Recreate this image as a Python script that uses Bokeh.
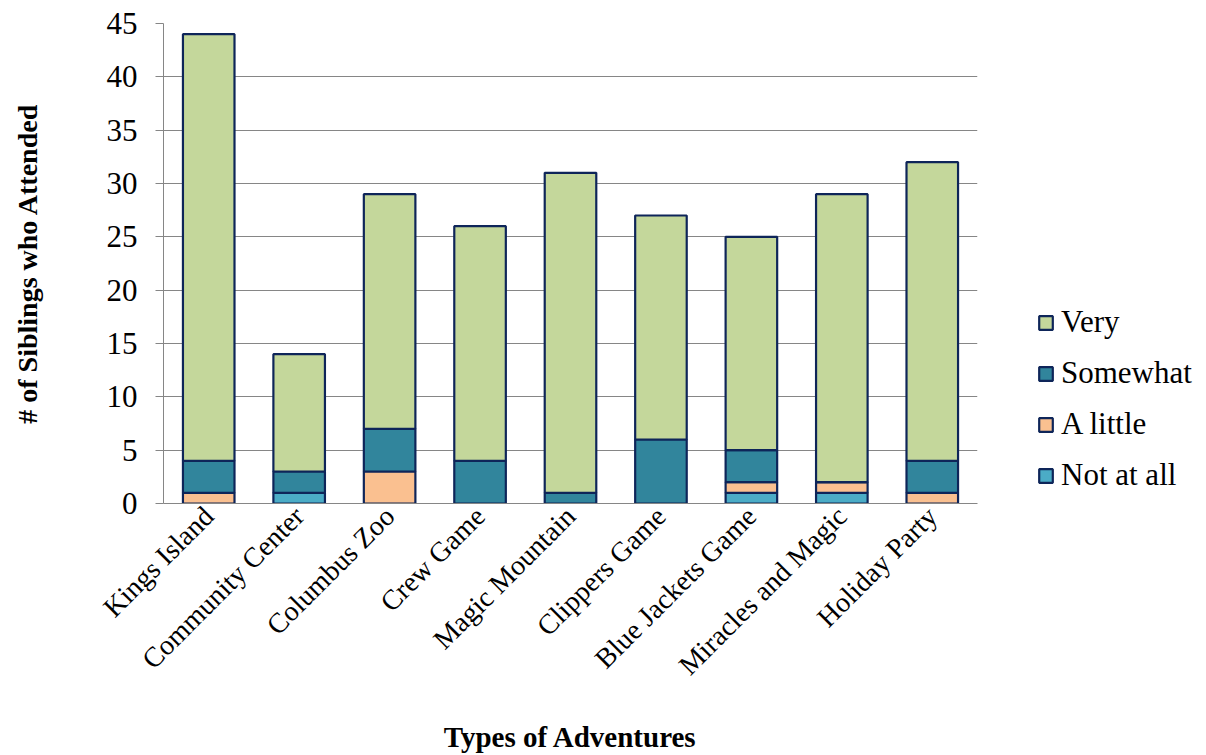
import math
from bokeh.plotting import figure
from bokeh.models import ColumnDataSource, Legend, LegendItem, FactorRange, FixedTicker
from bokeh.embed import file_html
from bokeh.resources import INLINE

categories = ["Kings Island", "Community Center", "Columbus Zoo", "Crew Game",
              "Magic Mountain", "Clippers Game", "Blue Jackets Game",
              "Miracles and Magic", "Holiday Party"]
not_at_all = [0, 1, 0, 0, 0, 0, 1, 1, 0]
a_little = [1, 0, 3, 0, 0, 0, 1, 1, 1]
somewhat = [3, 2, 4, 4, 1, 6, 3, 0, 3]
very = [40, 11, 22, 22, 30, 21, 20, 27, 28]
series = ["Not at all", "A little", "Somewhat", "Very"]
colors = ["#4BACC6", "#FAC090", "#31859C", "#C4D79B"]
y_ticks = [0, 5, 10, 15, 20, 25, 30, 35, 40, 45]

source = ColumnDataSource(data={
    "cat": categories,
    "Not at all": not_at_all,
    "A little": a_little,
    "Somewhat": somewhat,
    "Very": very,
})

FONT = "Liberation Serif"
GRAY = "#868686"
NAVY = "#0E2559"

p = figure(x_range=FactorRange(*categories), y_range=(0, 45),
           frame_width=814, frame_height=480,
           output_backend="svg", toolbar_location=None,
           min_border_left=163, min_border_right=0, min_border_top=23,
           min_border_bottom=252)

renderers = p.vbar_stack(series, x="cat", width=0.57, source=source,
                         color=colors, line_color=NAVY, line_width=2.2)

p.outline_line_color = None
p.background_fill_color = "white"
p.xgrid.grid_line_color = None
p.ygrid.grid_line_color = GRAY
p.ygrid.grid_line_width = 1

p.yaxis.ticker = FixedTicker(ticks=y_ticks)
p.yaxis.axis_line_color = GRAY
p.yaxis.major_tick_line_color = GRAY
p.yaxis.major_tick_out = 8
p.yaxis.major_tick_in = 0
p.yaxis.minor_tick_line_color = None
p.yaxis.major_label_text_font = FONT
p.yaxis.major_label_text_font_size = "31px"
p.yaxis.major_label_text_color = "black"
p.yaxis.major_label_standoff = 18
p.yaxis.axis_label = "# of Siblings who Attended"
p.yaxis.axis_label_text_font = FONT
p.yaxis.axis_label_text_font_style = "bold"
p.yaxis.axis_label_text_font_size = "28px"
p.yaxis.axis_label_text_color = "black"
p.yaxis.axis_label_standoff = 61

p.xaxis.axis_line_color = GRAY
p.xaxis.major_tick_line_color = None
p.xaxis.major_tick_out = 0
p.xaxis.major_tick_in = 0
p.xaxis.major_label_orientation = math.pi / 4
p.xaxis.major_label_text_font = FONT
p.xaxis.major_label_text_font_size = "28px"
p.xaxis.major_label_text_color = "black"
p.xaxis.major_label_standoff = 8
p.xaxis.axis_label = "Types of Adventures"
p.xaxis.axis_label_text_font = FONT
p.xaxis.axis_label_text_font_style = "bold"
p.xaxis.axis_label_text_font_size = "29px"
p.xaxis.axis_label_text_color = "black"
p.xaxis.axis_label_standoff = 26

items = [LegendItem(label=s, renderers=[r]) for s, r in zip(series, renderers)]
items.reverse()
legend = Legend(items=items, location=(60, 10), orientation="vertical",
                border_line_color=None, background_fill_alpha=0,
                padding=0, margin=0, glyph_width=17, glyph_height=17,
                label_standoff=7, label_height=33, spacing=15,
                label_text_font=FONT, label_text_font_size="31px",
                label_text_color="black")
p.add_layout(legend, "right")

open("out.html", "w").write(file_html(p, INLINE))
